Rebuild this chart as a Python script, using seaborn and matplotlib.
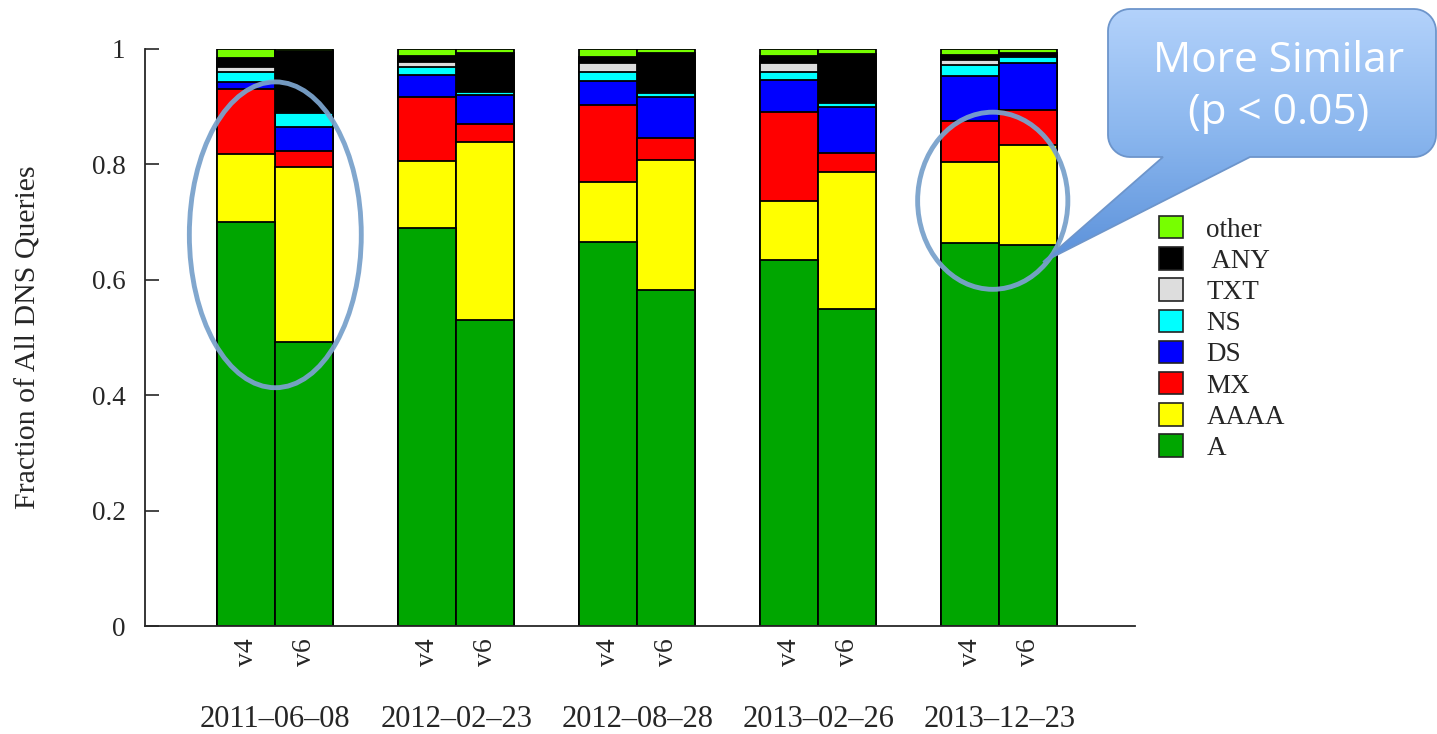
import numpy as np
import pandas as pd
import matplotlib
matplotlib.use("Agg")
import matplotlib.pyplot as plt
import seaborn as sns
from matplotlib.patches import Patch, Ellipse, Polygon
from matplotlib.colors import LinearSegmentedColormap

# ---------------- data ----------------
dates = ["2011\u201306\u201308", "2012\u201302\u201323", "2012\u201308\u201328",
         "2013\u201302\u201326", "2013\u201312\u201323"]
versions = ["v4", "v6"]
# values ordered: date1-v4, date1-v6, date2-v4, date2-v6, ...
A_vals     = [0.700, 0.492, 0.690, 0.530, 0.666, 0.582, 0.634, 0.549, 0.664, 0.660]
AAAA_vals  = [0.118, 0.303, 0.116, 0.308, 0.104, 0.226, 0.103, 0.238, 0.140, 0.174]
MX_vals    = [0.112, 0.028, 0.111, 0.032, 0.133, 0.037, 0.154, 0.033, 0.072, 0.060]
DS_vals    = [0.012, 0.042, 0.038, 0.050, 0.042, 0.072, 0.056, 0.079, 0.077, 0.082]
NS_vals    = [0.018, 0.024, 0.014, 0.006, 0.015, 0.006, 0.013, 0.008, 0.019, 0.010]
TXT_vals   = [0.008, 0.001, 0.009, 0.002, 0.016, 0.002, 0.016, 0.002, 0.009, 0.002]
ANY_vals   = [0.017, 0.106, 0.010, 0.065, 0.011, 0.068, 0.012, 0.082, 0.009, 0.005]
other_vals = [0.015, 0.004, 0.012, 0.007, 0.013, 0.007, 0.012, 0.009, 0.010, 0.007]

types = ["A", "AAAA", "MX", "DS", "NS", "TXT", "ANY", "other"]
legend_labels = ["A", "AAAA", "MX", "DS", "NS", "TXT", " ANY", "other"]
colors = ["#00a600", "#ffff00", "#ff0000", "#0000ff", "#00ffff", "#dddddd", "#000000", "#77ff00"]
series = [A_vals, AAAA_vals, MX_vals, DS_vals, NS_vals, TXT_vals, ANY_vals, other_vals]

callout_text = "More Similar\n(p < 0.05)"
ylabel = "Fraction of All DNS Queries"

# ---------------- frame ----------------
rows = []
for di, d in enumerate(dates):
    for vi, v in enumerate(versions):
        rows.append({"date": d, "ver": v})
df = pd.DataFrame(rows)
cum = np.zeros(len(df))
for t, vals in zip(types, series):
    cum = cum + np.array(vals)
    df["cum_" + t] = cum.copy()

sns.set_style("ticks")
plt.rcParams["font.family"] = ["Liberation Serif", "DejaVu Serif"]

W, H = 1437, 734
fig = plt.figure(figsize=(W / 100, H / 100), dpi=100)
ax = fig.add_axes([145 / W, (H - 626) / H, (1135 - 145) / W, 577 / H])

# draw cumulative layers from top to bottom (overdraw trick)
for t, c in reversed(list(zip(types, colors))):
    sns.barplot(data=df, x="date", y="cum_" + t, hue="ver", hue_order=versions,
                order=dates, palette={"v4": c, "v6": c}, width=0.64, gap=0,
                dodge=True, saturation=1, edgecolor="black", linewidth=1.3,
                errorbar=None, legend=False, ax=ax)

ax.set_xlim(-0.72, 4.75)
ax.set_ylim(0, 1)
sns.despine(ax=ax)
ax.spines["left"].set_linewidth(1.3)
ax.spines["bottom"].set_linewidth(1.3)
ax.set_yticks([0, 0.2, 0.4, 0.6, 0.8, 1])
ax.set_yticklabels(["0", "0.2", "0.4", "0.6", "0.8", "1"], fontsize=19.5)
ax.tick_params(axis="y", direction="in", length=10, width=1.2, pad=14)
ax.set_ylabel(ylabel, fontsize=21.5, labelpad=36)

pos = []
labs = []
for i in range(len(dates)):
    pos += [i - 0.16, i + 0.16]
    labs += versions
ax.set_xticks(pos)
ax.set_xticklabels(labs, rotation=90, fontsize=20)
ax.set_xticks(range(len(dates)), minor=True)
ax.set_xticklabels(dates, minor=True, fontsize=22)
ax.tick_params(axis="x", which="major", length=0, pad=9)
ax.tick_params(axis="x", which="minor", length=0, pad=57)
ax.set_xlabel("")

# ellipses (annotations, in data coordinates)
ell_kw = dict(fill=False, edgecolor="#7aa2cc", linewidth=3.5, alpha=0.95,
              clip_on=False, zorder=10)
ax.add_patch(Ellipse((0.0, 0.678), 0.95, 0.53, **ell_kw))
ax.add_patch(Ellipse((3.964, 0.737), 0.83, 0.307, **ell_kw))

# legend
handles = [Patch(facecolor=c, edgecolor="#222222", linewidth=1.2) for c in colors]
leg = fig.legend(handles[::-1], legend_labels[::-1], loc="upper left",
                 bbox_to_anchor=(1159 / W, 1 - 216 / H), frameon=False,
                 fontsize=19.5, handlelength=0.9, handleheight=0.9,
                 handletextpad=0.85, labelspacing=0.17, borderpad=0, borderaxespad=0)

# callout bubble (overlay in pixel coordinates)
ov = fig.add_axes([0, 0, 1, 1], zorder=20)
ov.set_xlim(0, W)
ov.set_ylim(H, 0)
ov.axis("off")
ov.patch.set_alpha(0)

x0, x1, y0, y1, r = 1108, 1436, 9, 157, 22
def arc(cx, cy, a0, a1, n=12):
    a = np.radians(np.linspace(a0, a1, n))
    return list(zip(cx + r * np.cos(a), cy + r * np.sin(a)))
outline = []
outline += arc(x0 + r, y0 + r, 180, 270)          # top-left corner
outline += arc(x1 - r, y0 + r, 270, 360)          # top-right corner
outline += arc(x1 - r, y1 - r, 0, 90)             # bottom-right corner
outline += [(1250, y1), (1043, 262), (1163, y1)]  # pointer
outline += arc(x0 + r, y1 - r, 90, 180)           # bottom-left corner
bubble = Polygon(outline, closed=True, facecolor="none", edgecolor="#6d95cb",
                 linewidth=1.3, zorder=3)
ov.add_patch(bubble)
cmap = LinearSegmentedColormap.from_list("cb", ["#b3d2fb", "#8ab6ee", "#5b91da"])
grad = np.linspace(0, 1, 256).reshape(-1, 1)
img = ov.imshow(grad, cmap=cmap, extent=(1030, 1437, 262, 8), aspect="auto",
                zorder=2, interpolation="bilinear")
img.set_clip_path(bubble)
ov.set_xlim(0, W)
ov.set_ylim(H, 0)
ov.text(1279, 87, callout_text, ha="center", va="center", color="white",
        fontsize=30.5, family=["Open Sans", "DejaVu Sans"], linespacing=1.3, zorder=6)

fig.savefig("out.png", dpi=100)
